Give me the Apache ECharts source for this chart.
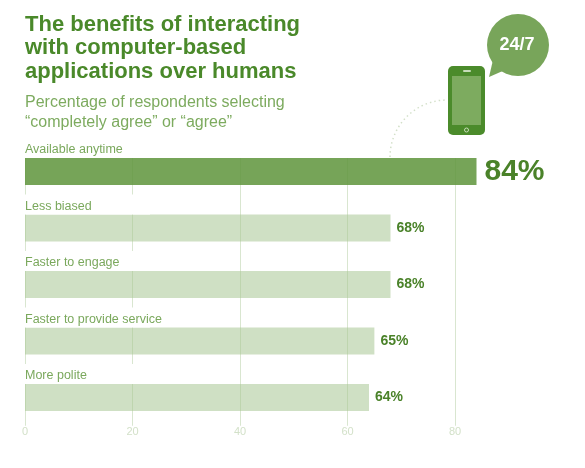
<!DOCTYPE html>
<html>
<head>
<meta charset="utf-8">
<script src="https://cdn.jsdelivr.net/npm/echarts@6/dist/echarts.min.js"></script>
<style>html,body{margin:0;padding:0;background:#fff;}#c{width:585px;height:468px;}</style>
</head>
<body>
<div id="c"></div>
<script>
var categories = ['Available anytime', 'Less biased', 'Faster to engage', 'Faster to provide service', 'More polite'];
var values = [84, 68, 68, 65, 64];
var tickLabels = ['0', '20', '40', '60', '80'];
var titleText = 'The benefits of interacting\nwith computer-based\napplications over humans';
var subtitleText = 'Percentage of respondents selecting\n\u201Ccompletely agree\u201D or \u201Cagree\u201D';
var badgeText = '24/7';

var FONT = '"Liberation Sans", Arial, sans-serif';
var chart = echarts.init(document.getElementById('c'), null, {renderer: 'canvas'});

var mainData = values.map(function (v, i) {
  return i === 0 ? {
    value: v,
    itemStyle: {color: 'rgba(96,149,61,0.86)'},
    label: {fontSize: 30, distance: 8}
  } : {value: v};
});
var nameData = values.map(function (v, i) {
  return i === 0 ? {
    value: v,
    label: {width: 455, lineHeight: 14, padding: [0, 0, 1, 2]}
  } : {value: v};
});

chart.setOption({
  animation: false,
  title: [{
    text: titleText, left: 20, top: 8,
    textStyle: {fontFamily: FONT, fontSize: 22, fontWeight: 'bold', color: '#4a892a', lineHeight: 23.5}
  }, {
    text: subtitleText, left: 20, top: 88,
    textStyle: {fontFamily: FONT, fontSize: 16, fontWeight: 'normal', color: '#7dab5f', lineHeight: 19.5}
  }],
  grid: {left: 25, right: 22.5, top: 143.25, bottom: 42.25, containLabel: false},
  xAxis: {
    type: 'value', min: 0, max: 100, interval: 20,
    axisLine: {show: false}, axisTick: {show: false},
    splitLine: {show: true, showMaxLine: false, lineStyle: {width: 1, color: ['#d9e6d0', '#d9e6d0', '#d9e6d0', '#d9e6d0', '#d9e6d0', 'rgba(0,0,0,0)']}},
    axisLabel: {
      margin: 1, fontFamily: FONT, fontSize: 11, color: '#d3e1c9', showMaxLabel: false,
      formatter: function (v) { var i = v / 20; return tickLabels[i] !== undefined ? tickLabels[i] : ''; }
    }
  },
  yAxis: {
    type: 'category', data: categories, inverse: true,
    axisLine: {show: false}, axisTick: {show: false}, axisLabel: {show: false}, splitLine: {show: false}
  },
  series: [{
    type: 'bar', data: mainData, barWidth: 27, silent: true,
    itemStyle: {color: 'rgba(166,198,146,0.54)'},
    label: {
      show: true, position: 'right', distance: 6, formatter: '{c}%',
      fontFamily: FONT, fontWeight: 'bold', fontSize: 14, color: '#4a8229'
    }
  }, {
    type: 'bar', data: nameData, barWidth: 27, barGap: '-100%', silent: true,
    itemStyle: {color: 'rgba(0,0,0,0)'},
    label: {
      show: true, position: [-2, 0], align: 'left', verticalAlign: 'bottom',
      formatter: '{b}', fontFamily: FONT, fontSize: 12.5, color: '#7aa85c',
      backgroundColor: '#ffffff', width: 125, lineHeight: 16, padding: [4, 0, 0, 2]
    }
  }],
  graphic: [{
    type: 'arc', z: 100, silent: true,
    shape: {cx: 447, cy: 157, r: 57, startAngle: Math.PI, endAngle: Math.PI * 1.5, clockwise: true},
    style: {stroke: '#d3e0c9', lineWidth: 1.5, lineDash: [1.5, 3], fill: null}
  }, {
    type: 'rect', z: 101, silent: true,
    shape: {x: 448, y: 66, width: 37, height: 69, r: 5},
    style: {fill: '#4b8b2b'}
  }, {
    type: 'rect', z: 102, silent: true,
    shape: {x: 452, y: 76, width: 29, height: 49},
    style: {fill: '#7dab5f'}
  }, {
    type: 'rect', z: 102, silent: true,
    shape: {x: 463, y: 70, width: 8, height: 2, r: 1},
    style: {fill: '#c7dbb9'}
  }, {
    type: 'circle', z: 102, silent: true,
    shape: {cx: 466.5, cy: 130, r: 2},
    style: {fill: null, stroke: '#c7dbb9', lineWidth: 1}
  }, {
    type: 'polygon', z: 101, silent: true,
    shape: {points: [[493, 60], [489, 77], [505, 70]]},
    style: {fill: '#78a55a'}
  }, {
    type: 'circle', z: 101, silent: true,
    shape: {cx: 518, cy: 45, r: 31},
    style: {fill: '#78a55a'}
  }, {
    type: 'text', z: 103, silent: true,
    x: 517, y: 45,
    style: {text: badgeText, fill: '#ffffff', font: 'bold 18px ' + FONT, align: 'center', verticalAlign: 'middle'}
  }]
});
</script>
</body>
</html>
